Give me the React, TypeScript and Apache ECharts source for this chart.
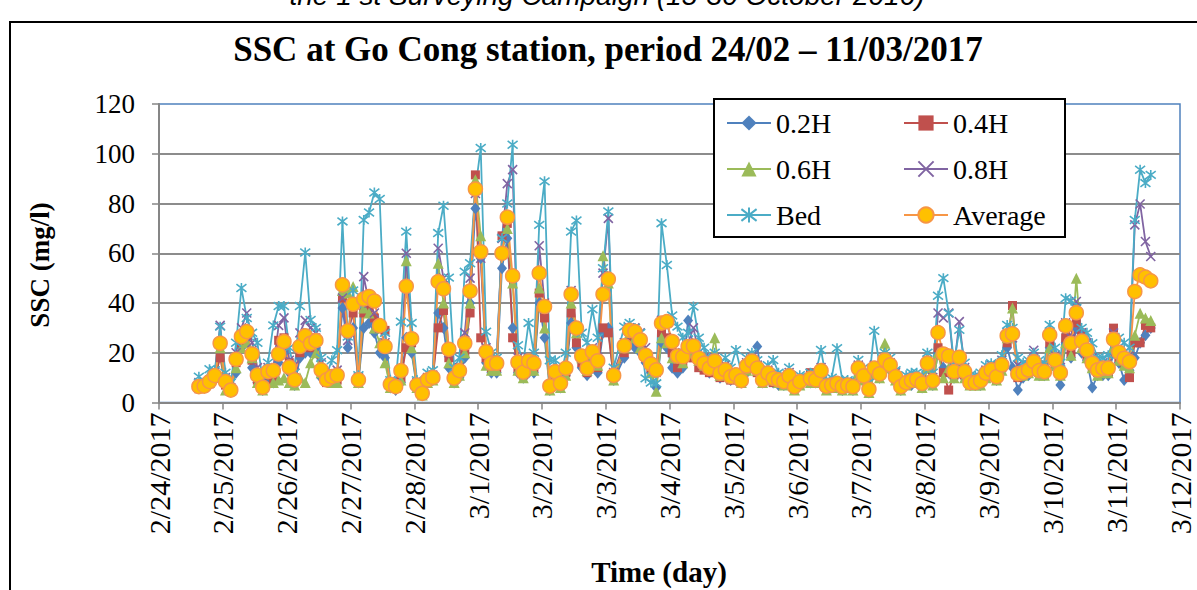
import { useEffect, useRef } from "react";
import * as echarts from "echarts";

// sampling time, hours after 2/24/2017 00:00
const hours = [
  15, 17, 19, 21, 23, 25, 27, 29, 31, 33, 35, 37, 39, 41, 43, 45, 47, 49, 51, 53, 55, 57, 59, 61, 63, 65, 67,
  69, 71, 73, 75, 77, 79, 81, 83, 85, 87, 89, 91, 93, 95, 97, 99, 101, 103, 105, 107, 109, 111, 113, 115, 117, 119, 121, 123, 125, 127, 129, 131, 133, 135, 137, 139, 141, 143, 145, 147, 149, 151, 153, 155, 157, 159, 161, 163, 165, 167, 169, 171,
  175, 177, 179, 181, 183, 185, 187, 189, 191, 193, 195, 197, 199, 201, 203, 205, 207, 209, 211, 213, 215, 217, 219, 221, 223, 225, 227, 229, 231, 233, 235, 237, 239, 241,
  245, 247, 249, 251, 253, 255, 257, 259, 261, 263, 265, 267, 269, 271, 273, 275, 277, 279, 281, 283, 285, 287, 289, 291, 293, 295, 297, 299, 301, 303, 305, 307, 309, 311, 313, 315, 317, 319, 321, 323, 325, 327, 329, 331, 333, 335, 337, 339, 341, 343, 345, 347, 349, 351, 353, 355, 357, 359, 361, 363, 365, 367, 369, 371, 373,
];

const dateLabels = [
  "2/24/2017", "2/25/2017", "2/26/2017", "2/27/2017", "2/28/2017", "3/1/2017", "3/2/2017", "3/3/2017", "3/4/2017",
  "3/5/2017", "3/6/2017", "3/7/2017", "3/8/2017", "3/9/2017", "3/10/2017", "3/11/2017", "3/12/2017",
];

const d02 = [
  6, 6, 7, 9, 20, 8, 5, 12, 22, 26, 14, 8, 5, 10, 8, 16, 20, 12, 7, 18, 20, 20, 22, 10, 9, 9, 10,
  38, 22, 30, 8, 30, 32, 28, 20, 18, 6, 5, 8, 26, 20, 6, 3, 8, 9, 36, 30, 14, 8, 10, 18, 40, 78, 58, 16, 12, 12, 54, 66, 30, 12, 10, 12, 12, 40, 26, 5, 10, 6, 11, 32, 22, 14, 11, 14, 12, 28, 30, 9,
  18, 24, 22, 20, 16, 12, 6, 24, 22, 14, 12, 14, 33, 22, 16, 14, 12, 13, 10, 11, 9, 10, 8, 12, 15, 22.5, 8, 10, 8, 7, 7, 9, 6, 7,
  8, 8, 11, 6, 6, 6, 5, 6, 5, 12, 9, 4, 12, 10, 14, 13, 9, 5, 7, 7, 8, 6, 14, 7, 20, 14, 12, 10, 12, 10, 7, 7, 7, 10, 11, 9, 13, 22, 14, 5, 10, 11, 13, 11, 11, 22, 14, 7, 24, 18, 30, 20, 17, 6, 11, 11, 11, 20, 16, 9, 13, 18, 24, 27, 30,
];
const d04 = [
  5.5, 6, 7.5, 10, 18, 7, 5, 16, 24, 27, 17, 9, 6, 11, 9, 25, 26, 16, 10, 20, 24, 22, 26, 12, 8, 9, 9,
  42, 28, 36, 9, 36, 38, 34, 30, 29, 7, 6, 10, 22, 24, 7, 3.5, 9, 10, 30, 37, 18, 9, 12, 20, 36, 91.5, 26, 18, 14, 14, 67, 72, 26, 14, 11, 14, 14, 44, 34, 6, 11, 7, 12, 36, 24, 16, 12, 16, 14, 30, 28, 10,
  20, 26, 28, 24, 18, 14, 12, 28, 26, 20, 14, 16, 18, 18, 14, 13, 12, 12, 10, 11, 9, 10, 8, 13, 16, 12, 8, 10, 8, 8, 7, 9, 6, 7,
  12, 8, 12, 6, 6, 7, 6, 6, 6, 13, 10, 5, 13, 11, 15, 14, 10, 6, 7, 8, 8, 7, 15, 8, 22, 12, 5, 11, 14, 11, 7, 7, 8, 10, 12, 9, 14, 24, 39, 10, 11, 12, 14, 12, 11, 24, 16, 11, 26, 20, 32, 28, 19, 14, 12, 12, 12, 29.9, 18, 16, 10, 24, 24, 31, 30,
];
const d06 = [
  6.5, 7, 8, 11, 22, 5, 5, 14, 22, 24, 18, 8, 5, 12, 8, 9, 10, 8, 7, 10, 8, 16, 20, 12, 9, 8, 8,
  45, 44, 46.6, 8, 38, 36, 30, 24, 16, 6, 6, 9, 57, 22, 6, 3, 8, 9, 56, 40, 16, 8, 11, 20, 40, 89.5, 67, 15, 13, 13, 60, 70, 48, 13, 10, 13, 13, 46, 30, 5, 10, 6, 11, 40, 28, 18, 13, 18, 15, 59, 48, 9,
  22, 28, 26, 22, 20, 12, 4.5, 26, 24, 18, 18, 16, 20, 20, 17, 15, 14, 26, 11, 12, 10, 10, 8, 13, 16, 13, 8, 11, 9, 8, 7, 10, 5, 7,
  8, 8, 11, 5, 6, 6, 5, 6, 5, 12, 9, 4, 12, 10, 23.8, 14, 9, 5, 7, 8, 8, 6, 14, 7, 20, 10, 14, 10, 13, 10, 7, 7, 7, 10, 11, 9, 13, 26, 38, 12, 11, 12, 14, 11, 11, 22, 15, 11, 24, 19, 50, 22, 18, 14, 11, 12, 12, 22, 17, 15, 14, 27, 35.9, 34, 33,
];
const d08 = [
  8, 7, 9, 12, 31, 10, 6, 20, 30, 36, 24, 14, 7, 14, 14, 31, 34, 17, 15, 28, 33, 30, 28, 16, 10, 12, 13,
  42, 25, 40, 10, 50.6, 40, 36, 30, 24, 8, 7, 12, 60, 26, 8, 4, 10, 11, 62, 50, 20, 10, 14, 28, 50, 84, 58, 22, 16, 16, 66, 88, 93.6, 18, 13, 18, 16, 63, 40, 7, 13, 8, 14, 45, 30, 18, 14, 22, 18, 52, 74, 12,
  24, 30, 30, 28, 22, 16, 14, 33, 32, 24, 20, 20, 24, 30, 20, 18, 16, 18, 13, 15, 12, 12, 9, 16, 18, 15, 10, 13, 11, 10, 9, 12, 7, 9,
  10, 10, 14, 7, 8, 8, 7, 8, 7, 15, 12, 6, 15, 13, 17, 16, 12, 7, 9, 10, 10, 9, 17, 10, 36, 34, 36, 14, 32.5, 14, 9, 9, 10, 13, 15, 12, 17, 28, 26, 15, 14, 15, 21, 15, 14, 28, 19, 14, 32, 26, 40.6, 28, 24, 18, 15, 16, 16, 28, 22, 20, 19, 71.4, 79.8, 64.7, 58.7,
];
const bed = [
  10.4, 8, 13.4, 13, 30.5, 12, 8, 24, 46, 34, 28, 24, 9, 16, 31, 38.8, 38.8, 22, 12, 38.8, 60.3, 33.2, 30, 18, 11, 17, 21,
  72.8, 26.5, 45, 11, 73.4, 76.4, 84.4, 81.8, 28, 9, 8, 32.5, 68.7, 32, 9, 5, 12, 13, 68.1, 79.1, 50.2, 14, 18, 52.6, 56, 86, 102.3, 28.5, 20, 18, 66, 80, 103.6, 23, 16, 32, 20, 71.4, 88.9, 17, 17, 10, 20, 68.7, 73.2, 28, 24, 37.5, 26, 54, 76.8, 14,
  30.5, 32, 30, 28, 9.7, 8, 7.7, 72.1, 55.3, 35, 30.5, 26, 28, 38.6, 26, 22, 18, 20, 16, 18, 14, 21.1, 12, 18, 20, 17, 12, 15, 17.1, 12, 11, 14, 9, 11,
  12, 12, 21.1, 9, 10, 21.8, 9, 9, 8, 17.1, 14, 8, 28.8, 15, 20, 18, 13, 9, 11, 12, 12, 11, 20, 12, 42.9, 50, 35.9, 16, 29.2, 16, 11, 11, 12, 15, 15.8, 14, 19, 31.2, 30, 18, 16, 17, 20, 17, 16, 31.2, 22, 16, 41.9, 41, 38, 30, 28, 23.8, 18, 18, 19, 25, 26, 24, 22, 73.4, 93.6, 88.2, 91.5,
];
const average = [
  6.4, 6.6, 8.4, 10.8, 23.8, 8.4, 5.0, 17.4, 26.5, 28.5, 19.5, 11, 6.1, 12.4, 12.8, 19.5, 24.5, 14.2, 9.1, 22.5, 26.8, 23.8, 24.9, 13.1, 9.1, 10.4, 11,
  47.3, 28.8, 39.5, 9.1, 41.6, 42.6, 40.8, 30.9, 22.5, 7.3, 6.4, 12.8, 46.7, 25.6, 7.0, 3.7, 9.1, 10.1, 48.6, 45.7, 21.4, 9.8, 12.8, 23.8, 44.8, 85.8, 60.6, 20.4, 15.8, 15.8, 60, 74.5, 50.9, 16.2, 12.2, 16.7, 15.8, 52, 38.6, 6.6, 12.4, 7.7, 13.8, 43.5, 29.9, 18.7, 13.8, 20.4, 16.8, 43.5, 49.6, 10.9,
  22.8, 29, 28.5, 25.2, 19, 15.5, 13.1, 31.9, 32.5, 24.5, 18.7, 18.4, 22.5, 22.7, 17.8, 15.8, 13.8, 16.7, 11.8, 13.1, 10.4, 11.1, 8.8, 14.7, 16.7, 13.8, 9.1, 11.8, 9.7, 9.1, 8.4, 10.7, 6.4, 8.4,
  9.7, 9.1, 12.8, 6.6, 7.0, 7.7, 6.4, 7.0, 6.4, 13.8, 10.7, 5.3, 13.8, 11.5, 17.1, 15.1, 10.4, 6.4, 8.0, 8.8, 9.3, 7.7, 15.8, 8.8, 28.1, 19.5, 18.7, 12.4, 18.2, 12.4, 8.0, 8.0, 8.8, 11.8, 13.1, 10.4, 15.1, 26.8, 27.6, 11.5, 12.0, 13.1, 16.4, 12.8, 12.4, 27.2, 17.1, 12.0, 30.8, 23.8, 36.1, 24.7, 21.1, 15.8, 13.1, 13.8, 13.8, 25.4, 20.2, 17.8, 16.4, 44.6, 51.3, 50.4, 48.9,
];

const yTicks = [0, 20, 40, 60, 80, 100, 120];

const SERIF = "'Liberation Serif', 'Times New Roman', serif";
const X_PATH = "path://M0,0L10,10M0,10L10,0";
const STAR_PATH = "path://M0,0L10,10M0,10L10,0M5,-1.5L5,11.5";

export default function App() {
  const ref = useRef<HTMLDivElement>(null);

  useEffect(() => {
    if (!ref.current) return;
    const chart = echarts.init(ref.current, undefined, { renderer: "svg" });
    const pts = (vals: number[]) => hours.map((h, i) => [h, vals[i]]);

    const mk = (name: string, vals: number[], color: string, symbol: string, size: any, itemStyle: any) => ({
      type: "line",
      name,
      data: pts(vals),
      color,
      symbol,
      symbolSize: size,
      showAllSymbol: true,
      silent: true,
      lineStyle: { color, width: 1.8 },
      itemStyle,
      emphasis: { disabled: true },
    });

    const series = [
      mk("0.2H", d02, "#4F81BD", "diamond", [10, 12], { color: "#4F81BD" }),
      mk("0.4H", d04, "#C0504D", "rect", 9, { color: "#C0504D" }),
      mk("0.6H", d06, "#9BBB59", "triangle", 11, { color: "#9BBB59" }),
      mk("0.8H", d08, "#8064A2", X_PATH, 9, { color: "#8064A2", borderColor: "#8064A2", borderWidth: 1.6 }),
      mk("Bed", bed, "#4BACC6", STAR_PATH, 10, { color: "#4BACC6", borderColor: "#4BACC6", borderWidth: 1.6 }),
      mk("Average", average, "#F79646", "circle", 14, { color: "#FFC000", borderColor: "#F79646", borderWidth: 1.5 }),
    ];

    const legendBase = {
      orient: "vertical",
      top: 108,
      padding: 0,
      itemWidth: 44,
      itemHeight: 19,
      itemGap: 16,
      selectedMode: false,
      textStyle: { fontFamily: SERIF, fontSize: 28, color: "#000", lineHeight: 30 },
    };

    chart.setOption({
      animation: false,
      backgroundColor: "#ffffff",
      grid: {
        left: 159,
        right: 17,
        top: 104,
        bottom: 187.5,
        show: true,
        borderColor: "#4F81BD",
        borderWidth: 1.5,
        backgroundColor: "transparent",
      },
      legend: [
        { ...legendBase, left: 726, data: ["0.2H", "0.6H", "Bed"] },
        { ...legendBase, left: 903, data: ["0.4H", "0.8H", "Average"] },
      ],
      xAxis: {
        type: "value",
        min: 0,
        max: (dateLabels.length - 1) * 24,
        interval: 24,
        axisLine: { show: true, onZero: false, lineStyle: { color: "#868686", width: 2 } },
        axisTick: { show: true, length: 7, lineStyle: { color: "#868686", width: 1.5 } },
        splitLine: { show: false },
        axisLabel: {
          rotate: 90,
          margin: 10,
          fontFamily: SERIF,
          fontSize: 30,
          color: "#000",
          showMinLabel: true,
          showMaxLabel: true,
          formatter: (v: number) => dateLabels[Math.round(v / 24)] ?? "",
        },
      },
      yAxis: {
        type: "value",
        min: yTicks[0],
        max: yTicks[yTicks.length - 1],
        interval: 20,
        axisLine: { show: true, lineStyle: { color: "#868686", width: 2 } },
        axisTick: { show: true, length: 7, lineStyle: { color: "#868686", width: 1.5 } },
        axisLabel: { margin: 24, fontFamily: SERIF, fontSize: 27, color: "#000" },
        splitLine: { show: true, showMaxLine: false, lineStyle: { color: "#8c8c8c", width: 1.8 } },
      },
      graphic: [
        {
          type: "rect",
          silent: true,
          shape: { x: 10, y: 22, width: 1400, height: 900 },
          style: { fill: "none", stroke: "#000", lineWidth: 2 },
        },
        {
          type: "text",
          silent: true,
          x: 607,
          y: -5,
          style: {
            text: "the 1 st Surveying Campaign (15-30 October 2016)",
            fontFamily: "'Liberation Sans', Arial, sans-serif",
            fontStyle: "italic",
            fontSize: 28,
            fill: "#000",
            align: "center",
            verticalAlign: "middle",
          },
        },
        {
          type: "text",
          silent: true,
          x: 608,
          y: 49,
          style: {
            text: "SSC at Go Cong station, period 24/02 – 11/03/2017",
            fontFamily: SERIF,
            fontWeight: "bold",
            fontSize: 35,
            fill: "#000",
            align: "center",
            verticalAlign: "middle",
          },
        },
        {
          type: "text",
          silent: true,
          x: 40,
          y: 265,
          rotation: Math.PI / 2,
          style: {
            text: "SSC (mg/l)",
            fontFamily: SERIF,
            fontWeight: "bold",
            fontSize: 27,
            fill: "#000",
            align: "center",
            verticalAlign: "middle",
          },
        },
        {
          type: "text",
          silent: true,
          x: 659,
          y: 572,
          style: {
            text: "Time (day)",
            fontFamily: SERIF,
            fontWeight: "bold",
            fontSize: 29,
            fill: "#000",
            align: "center",
            verticalAlign: "middle",
          },
        },
        {
          type: "rect",
          silent: true,
          z: 3,
          shape: { x: 714, y: 99, width: 351, height: 138 },
          style: { fill: "#ffffff", stroke: "#000", lineWidth: 2 },
        },
      ],
      series,
    });

    return () => chart.dispose();
  }, []);

  return (
    <div
      ref={ref}
      style={{ position: "absolute", left: 0, top: 0, width: 1197, height: 590, background: "#fff" }}
    />
  );
}
